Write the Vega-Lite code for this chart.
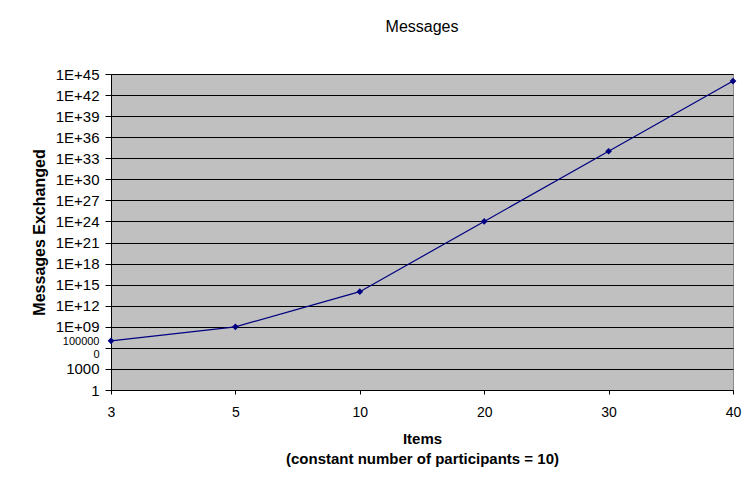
{
  "$schema": "https://vega.github.io/schema/vega-lite/v6.json",
  "autosize": "none",
  "width": 622,
  "height": 316,
  "padding": {"left": 111, "top": 74, "right": 11, "bottom": 96},
  "background": "white",
  "title": {
    "text": "Messages",
    "fontSize": 16,
    "fontWeight": "normal",
    "font": "Liberation Sans",
    "color": "black",
    "offset": 32
  },
  "data": {
    "values": [
      {"items": 3, "messages": 1e7},
      {"items": 5, "messages": 1e9},
      {"items": 10, "messages": 1e14},
      {"items": 20, "messages": 1e24},
      {"items": 30, "messages": 1e34},
      {"items": 40, "messages": 1e44}
    ]
  },
  "config": {
    "view": {"fill": "#C0C0C0", "stroke": "#8a8a8a"},
    "axis": {"labelColor": "black", "titleColor": "black", "domainColor": "black", "tickColor": "black"}
  },
  "encoding": {
    "x": {
      "field": "items",
      "type": "ordinal",
      "scale": {"type": "point", "padding": 0},
      "axis": {
        "labelAngle": 0,
        "labelFont": "Liberation Sans Narrow, Liberation Sans",
        "labelFontSize": 14,
        "tickSize": 4,
        "labelPadding": 11,
        "title": ["Items", "(constant number of participants =  10)"],
        "titleFont": "Liberation Sans",
        "titleFontSize": 15,
        "titleFontWeight": "bold",
        "titleLineHeight": 20,
        "titlePadding": 12,
        "grid": false
      }
    },
    "y": {
      "field": "messages",
      "type": "quantitative",
      "scale": {"type": "log", "domain": [1, 1e45], "nice": false},
      "axis": {
        "values": [1, 1000, 1000000, 1e9, 1e12, 1e15, 1e18, 1e21, 1e24, 1e27, 1e30, 1e33, 1e36, 1e39, 1e42, 1e45],
        "labelExpr": "datum.value == 1000000 ? ['100000','0'] : (datum.value < 1e7 ? format(datum.value, 'd') : '1E+' + (round(log(datum.value)/LN10) < 10 ? '0' : '') + round(log(datum.value)/LN10))",
        "labelFont": "Liberation Sans",
        "labelFontSize": {"condition": {"test": "datum.value == 1000000", "value": 11}, "value": 15},
        "labelLineHeight": 13,
        "labelOffset": {"condition": {"test": "datum.value == 1000000", "value": -6.5}, "value": 0},
        "labelPadding": 6,
        "tickSize": 6,
        "labelOverlap": false,
        "labelFlush": false,
        "grid": true,
        "gridColor": "black",
        "gridOpacity": 1,
        "gridWidth": 1,
        "title": "Messages Exchanged",
        "titleFont": "Liberation Sans",
        "titleFontSize": 16,
        "titleFontWeight": "bold",
        "titlePadding": 8
      }
    }
  },
  "layer": [
    {"mark": {"type": "line", "color": "#000080", "strokeWidth": 1.2}},
    {"mark": {"type": "point", "shape": "diamond", "filled": true, "color": "#000080", "size": 45, "opacity": 1}}
  ]
}
